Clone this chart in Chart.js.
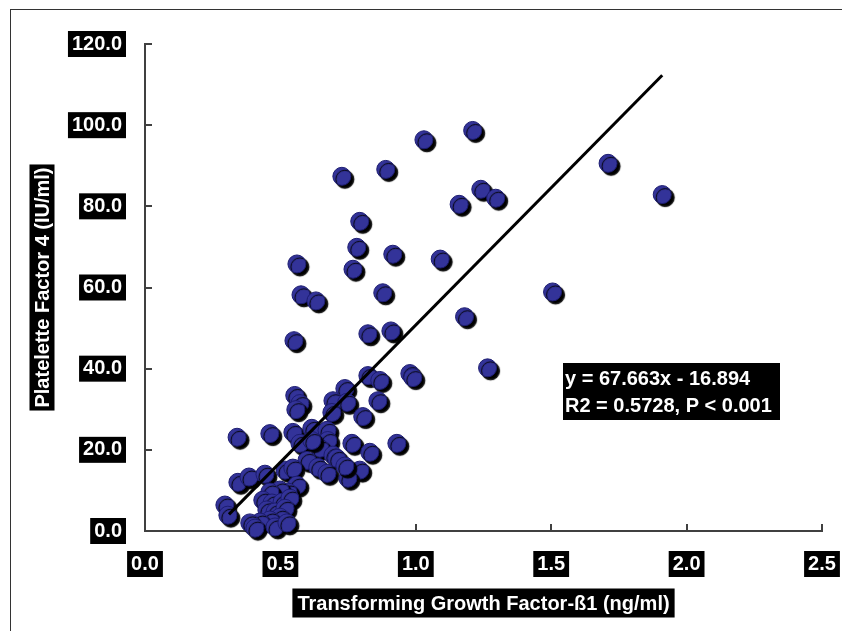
<!DOCTYPE html>
<html>
<head>
<meta charset="utf-8">
<script src="https://cdn.jsdelivr.net/npm/chart.js@4.4.1/dist/chart.umd.min.js"></script>
<style>
  body { margin: 0; background: #fff; }
  #wrap { width: 842px; height: 631px; }
</style>
</head>
<body>
<div id="wrap"><canvas id="chart" width="842" height="631"></canvas></div>
<script>
// TGF-ß1 (ng/ml) vs PF4 (IU/ml)
const tgfValues = [
  1.03, 1.21, 1.71, 1.91, 1.24, 1.295, 1.16, 1.09, 1.505, 1.18,
  1.265, 0.727, 0.889, 0.793, 0.782, 0.915, 0.561, 0.768, 0.576, 0.631,
  0.878, 0.823, 0.908, 0.55, 0.978, 0.989, 0.823, 0.867, 0.738, 0.694,
  0.745, 0.86, 0.69, 0.804, 0.553, 0.572, 0.557, 0.34, 0.461, 0.546,
  0.616, 0.672, 0.675, 0.572, 0.646, 0.694, 0.598, 0.638, 0.672, 0.764,
  0.83, 0.93, 0.793, 0.749, 0.343, 0.384, 0.443, 0.517, 0.546, 0.561,
  0.528, 0.498, 0.461, 0.435, 0.469, 0.506, 0.535, 0.45, 0.48, 0.517,
  0.498, 0.461, 0.424, 0.387, 0.295, 0.306, 0.406, 0.48, 0.524, 0.708, 0.738, 0.616
];
const pf4Values = [
  96.4, 98.7, 90.6, 82.9, 84.2, 82.0, 80.5, 67.0, 58.9, 52.8,
  40.2, 87.4, 89.1, 76.3, 69.9, 68.2, 65.8, 64.5, 58.2, 56.7,
  58.7, 48.6, 49.3, 46.9, 38.8, 37.8, 38.3, 37.1, 35.1, 32.1,
  31.7, 32.1, 29.2, 28.2, 33.4, 31.4, 29.9, 23.1, 24.0, 24.3,
  25.3, 24.8, 22.3, 21.6, 20.4, 18.7, 17.4, 15.7, 14.2, 21.6,
  19.4, 21.6, 15.0, 13.0, 12.0, 13.3, 14.0, 15.0, 15.5, 11.3,
  9.6, 10.1, 9.6, 7.6, 6.9, 7.1, 8.1, 5.2, 4.7, 5.6,
  3.4, 2.7, 2.2, 2.0, 6.4, 3.9, 0.7, 1.0, 2.0, 17.9, 16.0, 22.3
];
// regression line end points
const fitX = [0.31, 1.91];
const fitY = [4.1, 112.3];

const xTicks = [0, 0.5, 1.0, 1.5, 2.0, 2.5];
const yTicks = [0, 20, 40, 60, 80, 100, 120];
const xTitle = "Transforming Growth Factor-ß1 (ng/ml)";
const yTitle = "Platelette Factor 4 (IU/ml)";
const eqLines = ["y = 67.663x - 16.894", "R2 = 0.5728, P < 0.001"];

const FONT = "'Liberation Sans', Arial, sans-serif";
const tickFont = { family: FONT, size: 20, weight: 'bold', lineHeight: 1.2 };

const points = tgfValues.map((x, i) => ({ x: x, y: pf4Values[i] }));
const fitLine = fitX.map((x, i) => ({ x: x, y: fitY[i] }));

function labelBox(ctx, text, cx, cy, padX, h) {
  const w = ctx.measureText(text).width;
  ctx.fillStyle = '#000';
  ctx.fillRect(cx - w / 2 - padX, cy - h / 2, w + padX * 2, h);
  ctx.fillStyle = '#fff';
  ctx.fillText(text, cx, cy + 1);
}

const shadowPlugin = {
  id: 'dotShadow',
  beforeDatasetDraw(chart, args) {
    if (args.index !== 1) return;
    const ctx = chart.ctx;
    ctx.save();
    ctx.shadowColor = '#000';
    ctx.shadowOffsetX = 3;
    ctx.shadowOffsetY = 3;
    ctx.shadowBlur = 1;
  },
  afterDatasetDraw(chart, args) {
    if (args.index === 1) chart.ctx.restore();
  }
};

const textPlugin = {
  id: 'texts',
  afterDraw(chart) {
    const ctx = chart.ctx;
    const area = chart.chartArea;
    ctx.save();
    // frame
    ctx.strokeStyle = '#333';
    ctx.lineWidth = 1;
    ctx.strokeRect(10.5, 9.5, 900, 700);

    ctx.font = 'bold 20px ' + FONT;
    ctx.textAlign = 'center';
    ctx.textBaseline = 'middle';
    // x title
    labelBox(ctx, xTitle, (area.left + area.right) / 2, 603, 5, 29);
    // y title
    ctx.save();
    ctx.translate(42, (area.top + area.bottom) / 2);
    ctx.rotate(-Math.PI / 2);
    labelBox(ctx, yTitle, 0, 0, 3, 25);
    ctx.restore();

    // equation box
    ctx.fillStyle = '#000';
    ctx.fillRect(563, 363, 217, 57);
    ctx.fillStyle = '#fff';
    ctx.textAlign = 'left';
    ctx.fillText(eqLines[0], 565, 379);
    ctx.fillText(eqLines[1], 565, 406);
    ctx.restore();
  }
};

const axisCommon = {
  border: { display: true, color: '#404040', width: 2 },
  grid: { drawOnChartArea: false, drawTicks: true, tickLength: -7, color: '#404040', lineWidth: 2 },
  ticks: {
    color: '#fff',
    font: tickFont,
    showLabelBackdrop: true,
    backdropColor: '#000',
    backdropPadding: { top: 1, bottom: 1, left: 4, right: 4 },
    autoSkip: false,
    maxRotation: 0,
    minRotation: 0,
    callback: v => Number(v).toFixed(1)
  }
};

new Chart(document.getElementById('chart').getContext('2d'), {
  type: 'scatter',
  data: {
    datasets: [
      {
        type: 'line',
        data: fitLine,
        borderColor: '#000',
        borderWidth: 3,
        pointRadius: 0,
        fill: false
      },
      {
        data: points,
        backgroundColor: '#333399',
        borderColor: '#1c1c70',
        borderWidth: 1,
        pointRadius: 9,
        clip: false
      }
    ]
  },
  options: {
    responsive: false,
    animation: false,
    devicePixelRatio: 1,
    layout: { padding: { top: 44, right: 0, left: 0, bottom: 0 } },
    plugins: { legend: { display: false }, tooltip: { enabled: false } },
    scales: {
      x: {
        ...axisCommon,
        type: 'linear',
        min: 0, max: 2.5,
        afterBuildTicks: s => { s.ticks = xTicks.map(v => ({ value: v })); },
        afterFit: s => { s.height = 100; s.paddingRight = 20; },
        ticks: { ...axisCommon.ticks, padding: 28 }
      },
      y: {
        ...axisCommon,
        type: 'linear',
        min: 0, max: 120,
        afterBuildTicks: s => { s.ticks = yTicks.map(v => ({ value: v })); },
        afterFit: s => { s.width = 145; },
        ticks: { ...axisCommon.ticks, padding: 30 }
      }
    }
  },
  plugins: [shadowPlugin, textPlugin]
});
</script>
</body>
</html>
